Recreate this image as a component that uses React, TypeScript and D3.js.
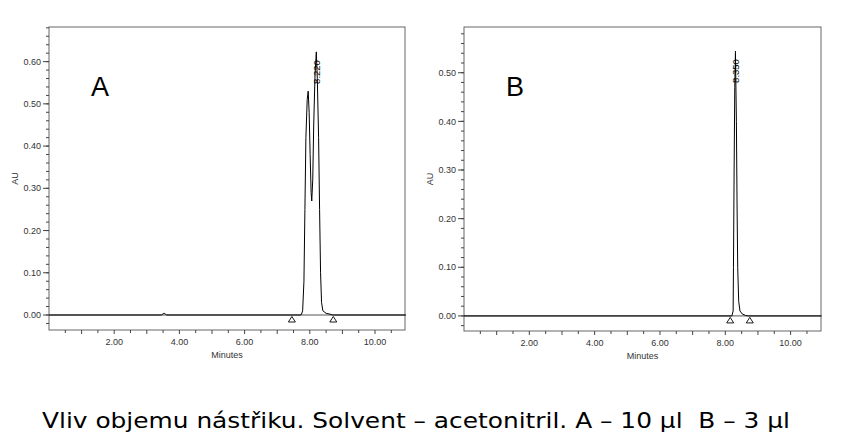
import React from "react";
import * as d3 from "d3";

// ---- data ----
const timesA = [0, 3.45, 3.5, 3.55, 3.6, 7.7, 7.74, 7.78, 7.82, 7.85, 7.88, 7.92, 7.95, 7.98, 8.01, 8.04, 8.06, 8.09, 8.12, 8.16, 8.2, 8.23, 8.27, 8.3, 8.33, 8.36, 8.4, 8.5, 8.62, 8.7, 10.95];
const valuesA = [0, 0, 0.003, 0.004, 0, 0, 0.001, 0.01, 0.08, 0.25, 0.42, 0.51, 0.53, 0.48, 0.38, 0.29, 0.27, 0.32, 0.45, 0.57, 0.623, 0.56, 0.42, 0.25, 0.1, 0.03, 0.01, 0.004, 0.002, 0, 0];
const timesB = [0, 8.2, 8.24, 8.25, 8.27, 8.29, 8.31, 8.34, 8.36, 8.38, 8.41, 8.45, 8.52, 8.62, 8.7, 10.95];
const valuesB = [0, 0, 0.01, 0.1, 0.3, 0.47, 0.54, 0.4, 0.23, 0.1, 0.03, 0.01, 0.004, 0.001, 0, 0];
const peakLabelsA = ["8.220"];
const peakTimesA = [8.2];
const peakLabelsB = ["8.350"];
const peakTimesB = [8.31];
const markersA = [7.45, 8.72];
const markersB = [8.15, 8.75];
const xTickLabels = [2, 4, 6, 8, 10];
const yTicksA = [0, 0.1, 0.2, 0.3, 0.4, 0.5, 0.6];
const yTicksB = [0, 0.1, 0.2, 0.3, 0.4, 0.5];
const caption = "Vliv objemu nástřiku. Solvent – acetonitril. A – 10 µl  B – 3 µl";

// ---- layout ----
type Panel = {
  letter: string;
  left: number; right: number; top: number; bottom: number;
  xMax: number; yMin: number; yMax: number;
  times: number[]; values: number[];
  yTicks: number[];
  peakLabels: string[]; peakTimes: number[];
  labelCenterY: number;
  markers: number[];
};

const panels: Panel[] = [
  {
    letter: "A", left: 49, right: 405, top: 27, bottom: 330,
    xMax: 10.92, yMin: -0.0355, yMax: 0.682,
    times: timesA, values: valuesA, yTicks: yTicksA,
    peakLabels: peakLabelsA, peakTimes: peakTimesA, labelCenterY: 72,
    markers: markersA,
  },
  {
    letter: "B", left: 464, right: 821, top: 27, bottom: 331,
    xMax: 10.93, yMin: -0.031, yMax: 0.594,
    times: timesB, values: valuesB, yTicks: yTicksB,
    peakLabels: peakLabelsB, peakTimes: peakTimesB, labelCenterY: 71,
    markers: markersB,
  },
];

const tickFont = "'Liberation Sans', Arial, sans-serif";

function PanelView({ p }: { p: Panel }) {
  const x = d3.scaleLinear().domain([0, p.xMax]).range([p.left, p.right]);
  const y = d3.scaleLinear().domain([p.yMin, p.yMax]).range([p.bottom, p.top]);
  const line = d3
    .line<number>()
    .x((_, i) => x(p.times[i]))
    .y((v) => y(v));
  const xMinor = d3.range(0.5, p.xMax, 0.5);
  const yMinor = d3.range(-0.02, p.yMax, 0.02).filter((v) => v > p.yMin);
  const midX = (p.left + p.right) / 2;
  const midY = (p.top + p.bottom) / 2;
  return (
    <g>
      {/* frame */}
      <rect x={p.left} y={p.top} width={p.right - p.left} height={p.bottom - p.top} fill="none" stroke="#666" strokeWidth={1} />
      {/* baseline */}
      <line x1={p.left} x2={p.right} y1={y(0)} y2={y(0)} stroke="#555" strokeWidth={1} />
      {/* y minor ticks */}
      {yMinor.map((v, i) => (
        <line key={"ym" + i} x1={p.left - 3} x2={p.left} y1={y(v)} y2={y(v)} stroke="#444" />
      ))}
      {p.yTicks.map((v) => (
        <g key={"yt" + v}>
          <line x1={p.left - 6} x2={p.left} y1={y(v)} y2={y(v)} stroke="#444" />
          <text x={p.left - 8} y={y(v)} dy="0.35em" textAnchor="end" fontSize={9} fontFamily={tickFont} fill="#333">
            {v.toFixed(2)}
          </text>
        </g>
      ))}
      {/* x ticks */}
      {xMinor.map((v, i) => (
        <line key={"xm" + i} x1={x(v)} x2={x(v)} y1={p.bottom} y2={p.bottom + (Math.abs(v - Math.round(v)) < 1e-6 ? 4 : 3)} stroke="#444" />
      ))}
      {xTickLabels.map((v) => (
        <text key={"xt" + v} x={x(v)} y={p.bottom + 15} textAnchor="middle" fontSize={9} fontFamily={tickFont} fill="#333">
          {v.toFixed(2)}
        </text>
      ))}
      <text x={midX} y={p.bottom + 28} textAnchor="middle" fontSize={9} fontFamily={tickFont} fill="#333">Minutes</text>
      <text transform={`translate(${p.left - 34},${midY}) rotate(-90)`} textAnchor="middle" dy="0.35em" fontSize={9} fontFamily={tickFont} fill="#333">AU</text>
      {/* chromatogram */}
      <path d={line(p.values) || ""} fill="none" stroke="#000" strokeWidth={1} />
      {/* peak labels */}
      {p.peakLabels.map((lab, i) => (
        <g key={"pl" + i}>
          <line x1={x(p.peakTimes[i])} x2={x(p.peakTimes[i])} y1={y(p.values[p.times.indexOf(p.peakTimes[i])])} y2={p.labelCenterY - 20} stroke="#000" strokeWidth={1} />
          <text transform={`translate(${x(p.peakTimes[i])},${p.labelCenterY}) rotate(-90)`} textAnchor="middle" dy="0.35em" fontSize={9.5} fontFamily={tickFont} fill="#000">
            {lab}
          </text>
        </g>
      ))}
      {/* integration markers */}
      {p.markers.map((t, i) => {
        const cx = x(t);
        const cy = y(0);
        return (
          <path key={"mk" + i} d={`M${cx},${cy + 1.5} L${cx + 3.5},${cy + 7} L${cx - 3.5},${cy + 7} Z`} fill="#fff" stroke="#000" strokeWidth={0.9} />
        );
      })}
      {/* panel letter */}
      <text x={p.left + 42} y={96} fontSize={27} fontFamily={tickFont} fill="#000">{p.letter}</text>
    </g>
  );
}

export default function App() {
  return (
    <svg width={860} height={445} viewBox="0 0 860 445" style={{ display: "block", position: "absolute", left: 0, top: 0, background: "#fff" }}>
      <rect x={0} y={0} width={860} height={445} fill="#fff" />
      {panels.map((p) => (
        <PanelView key={p.letter} p={p} />
      ))}
      <text x={42} y={428} fontSize={21} fontFamily="'DejaVu Sans', Verdana, sans-serif" fill="#000" textLength={748} lengthAdjust="spacingAndGlyphs" style={{ whiteSpace: "pre" }}>
        {caption}
      </text>
    </svg>
  );
}
